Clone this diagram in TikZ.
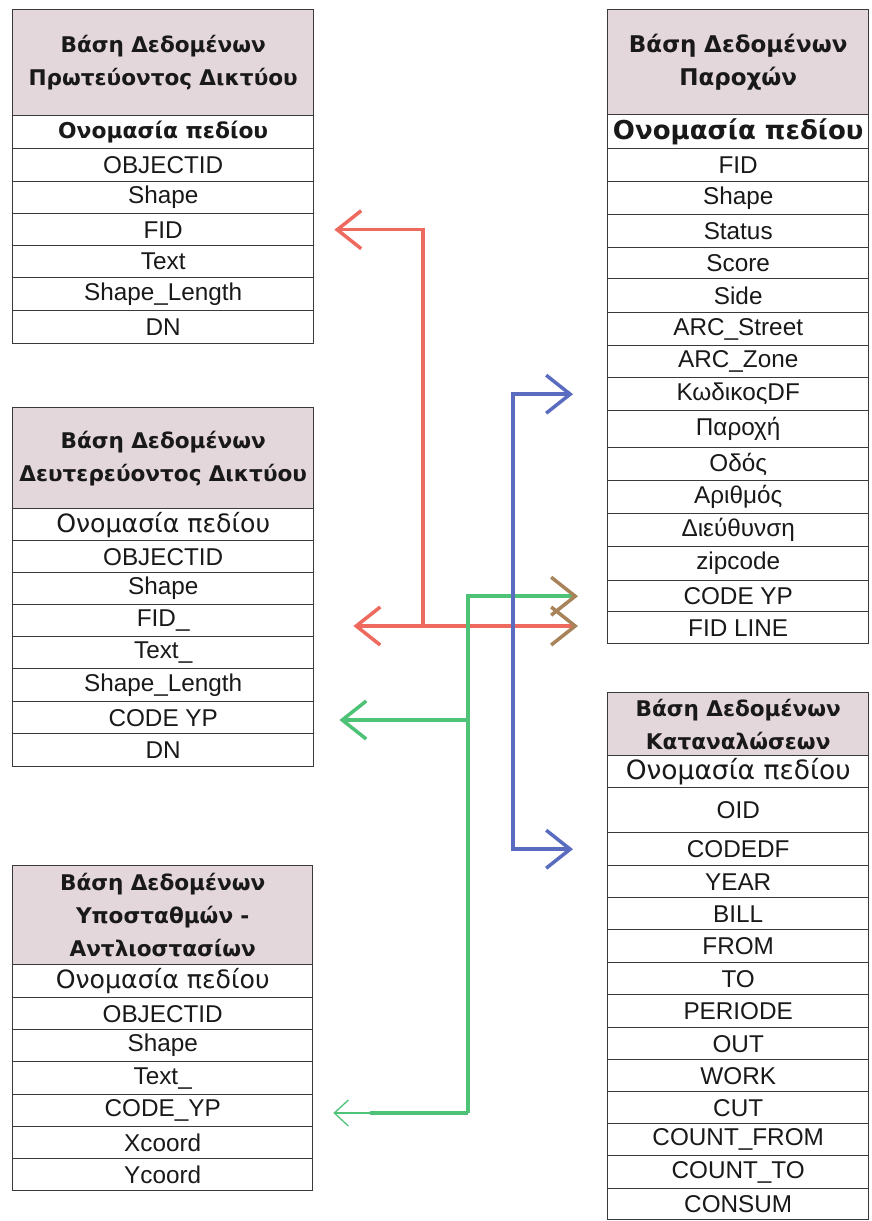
\documentclass[tikz,border=0pt]{standalone}
\usepackage{fontspec}
\setmainfont{Liberation Sans}
\newfontfamily\grk{DejaVu Sans}
\usetikzlibrary{arrows.meta}
\definecolor{headfill}{HTML}{E4D7DC}
\definecolor{tabline}{HTML}{3A3A3A}
\definecolor{cred}{HTML}{EF6A5E}
\definecolor{cblue}{HTML}{5A6CBF}
\definecolor{cgreen}{HTML}{4EC277}
\definecolor{cbrown}{HTML}{A88359}
\newcommand\fsrow{\fontsize{24.3}{33}\selectfont}
\newcommand\fshead{\grk\fontsize{21.6}{33}\selectfont\bfseries}
\tikzset{
  cell/.style={draw=tabline, line width=1.4pt, inner sep=0pt, anchor=north west, font=\fsrow, text=black!90},
  headcell/.style={cell, fill=headfill, align=center, font=\fshead},
  fieldcell/.style={cell, font=\grk\fontsize{25.2}{33}\selectfont},
  conn/.style={line width=3.5pt},
  tip/.style={-{Straight Barb[length=24pt,width=38pt]}},
  btip/.style={-{Straight Barb[length=24pt,width=38pt,color=cbrown]}}
}
\newcommand\tabrows[4]{%
  \foreach \txt/\ya/\yb [count=\i] in {#4} {%
    \pgfmathsetmacro\hh{\yb-\ya}%
    \node[cell, minimum width=#3pt, minimum height=\hh pt] (#1\i) at (#2,\ya) {\txt};
  }}
\begin{document}
\begin{tikzpicture}[x=1pt,y=-1pt]
\fill[white] (0,0) rectangle (871,1221);
\useasboundingbox (0,0) rectangle (871,1221);

% Table 1
\node[headcell, minimum width=301pt, text width=301pt, minimum height=106pt] (t1h) at (12,9) {Βάση Δεδομένων\\Πρωτεύοντος Δικτύου};
\node[fieldcell, font=\grk\fontsize{21.8}{33}\selectfont\bfseries, minimum width=301pt, minimum height=33pt] (t1f) at (12,115) {Ονομασία πεδίου};
\tabrows{t1r}{12}{301}{OBJECTID/148/181, Shape/181/213, FID/213/245, Text/245/277, Shape\_Length/277/310, DN/310/343}

% Table 2
\node[headcell, minimum width=301pt, text width=301pt, minimum height=101pt] (t2h) at (12,407) {Βάση Δεδομένων\\Δευτερεύοντος Δικτύου};
\node[fieldcell, minimum width=301pt, minimum height=32pt] (t2f) at (12,508) {Ονομασία πεδίου};
\tabrows{t2r}{12}{301}{OBJECTID/540/572, Shape/572/604, FID\_/604/636, Text\_/636/668, Shape\_Length/668/701, CODE YP/701/733, DN/733/766}

% Table 3
\node[headcell, minimum width=300pt, text width=300pt, minimum height=99pt] (t3h) at (12,865) {Βάση Δεδομένων\\Υποσταθμών -\\Αντλιοστασίων};
\node[fieldcell, minimum width=300pt, minimum height=33pt] (t3f) at (12,964) {Ονομασία πεδίου};
\tabrows{t3r}{12}{300}{OBJECTID/997/1029, Shape/1029/1061, Text\_/1061/1094, CODE\_YP/1094/1126, Xcoord/1126/1158, Ycoord/1158/1190}

% Table 4
\node[headcell, font=\grk\fontsize{23}{33}\selectfont\bfseries, minimum width=261pt, text width=261pt, minimum height=105pt] (t4h) at (607,9) {Βάση Δεδομένων\\Παροχών};
\node[fieldcell, font=\grk\fontsize{26}{33}\selectfont\bfseries, minimum width=261pt, minimum height=34pt] (t4f) at (607,114) {Ονομασία πεδίου};
\tabrows{t4r}{607}{261}{FID/148/181, Shape/181/214, Status/214/247, Score/247/278, Side/278/312, ARC\_Street/312/345, ARC\_Zone/345/377, ΚωδικοςDF/377/410, Παροχή/410/447, Οδός/447/480, Αριθμός/480/513, Διεύθυνση/513/546, zipcode/546/580, CODE YP/580/611, FID LINE/611/643}

% Table 5
\node[headcell, minimum width=261pt, text width=261pt, minimum height=63pt] (t5h) at (607,692) {Βάση Δεδομένων\\Καταναλώσεων};
\node[fieldcell, font=\grk\fontsize{26.5}{33}\selectfont, minimum width=261pt, minimum height=32pt] (t5f) at (607,755) {Ονομασία πεδίου};
\tabrows{t5r}{607}{261}{OID/787/832, CODEDF/832/865, YEAR/865/897, BILL/897/929, FROM/929/962, TO/962/994, PERIODE/994/1027, OUT/1027/1059, WORK/1059/1091, CUT/1091/1123, COUNT\_FROM/1123/1155, COUNT\_TO/1155/1188, CONSUM/1188/1219}

% Red connectors
\coordinate (rj) at (423,626);
\draw[conn, cred, tip] (rj) |- ([xshift=20pt]t1r3.east);
\draw[conn, cred, tip] (rj) -- ([xshift=39pt]t2r3.east |- rj);
\draw[conn, cred, btip] (rj) -- ([xshift=-29pt]t4r15.west |- rj);

% Green connectors
\coordinate (gb) at (468,1113);
\coordinate (gm) at (468,720);
\draw[conn, cgreen, btip] (gb) |- ([xshift=-29pt]t4r14.west);
\draw[conn, cgreen, tip] (gm) -- ([xshift=25pt]t2r6.east |- gm);
\coordinate (gthin) at ([xshift=57pt]t3r4.east |- gb);
\draw[conn, cgreen] (gb) -- (gthin);
\draw[cgreen, line width=1.3pt, -{Straight Barb[length=14pt,width=26pt]}] (gthin) -- ([xshift=20pt]t3r4.east |- gb);

% Blue connector
\coordinate (bv) at (513,600);
\draw[conn, cblue, {Straight Barb[length=24pt,width=38pt]}-{Straight Barb[length=24pt,width=38pt]}] ([xshift=-34pt]t4r8.west) -| (bv) |- ([xshift=-34pt]t5r2.west);
\end{tikzpicture}
\end{document}
